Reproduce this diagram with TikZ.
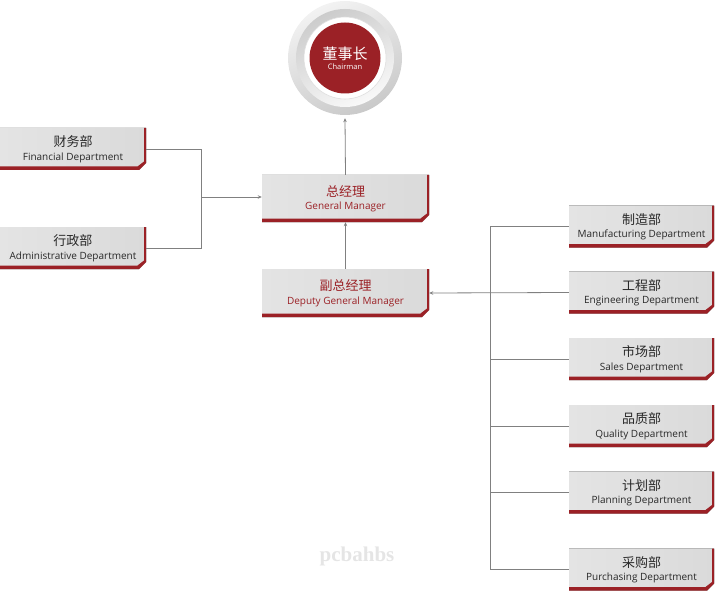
\documentclass[tikz,border=0pt]{standalone}
\usepackage{fontspec}
\setmainfont{Open Sans}
\newfontfamily\cjk{Noto Sans CJK SC}
\newfontfamily\wmfont{Liberation Serif}
\usetikzlibrary{arrows.meta,calc}
\definecolor{dred}{RGB}{155,33,38}
\definecolor{lnk}{RGB}{128,128,128}
\definecolor{boxL}{RGB}{228,228,228}
\definecolor{boxM}{RGB}{247,247,247}
\definecolor{boxR}{RGB}{218,218,218}
\definecolor{txt}{RGB}{40,40,40}
\newcommand\mylabel[2]{{\cjk\fontsize{13}{15}\selectfont #1}\\[1.5pt]{\fontsize{10}{11}\selectfont #2}}
\tikzset{
  panel/.style={rectangle, inner sep=0pt, align=center, text=txt,
    path picture={
      \path (path picture bounding box.north west) coordinate (pNW)
            (path picture bounding box.south east) coordinate (pSE);
      \fill[left color=boxL, middle color=boxM, right color=boxR]
        (pNW) -- (pNW -| pSE) -- ([yshift=7pt]pSE) -- ([xshift=-7pt]pSE) -- (pSE -| pNW) -- cycle;
      \fill[dred] (pNW -| pSE) -- ([yshift=7pt]pSE) -- ([xshift=-7pt]pSE) -- (pSE -| pNW)
        -- ([yshift=3.5pt]pSE -| pNW) -- ([xshift=-8.5pt,yshift=3.5pt]pSE)
        -- ([xshift=-2pt,yshift=8.5pt]pSE) -- ([xshift=-2pt]pNW -| pSE) -- cycle;
    }},
  dept/.style={panel, minimum width=145pt, minimum height=42pt},
  mgr/.style={panel, minimum width=167pt, minimum height=47pt, text=dred},
  conn/.style={draw=lnk, line width=0.8pt},
  tip/.style={-{Stealth[length=4pt,width=3.5pt]}}
}
\begin{document}
\begin{tikzpicture}[x=1pt,y=-1pt]
\useasboundingbox (0,0) rectangle (715,591);

% chairman emblem
\node[circle, minimum size=114pt, inner sep=0pt, top color=gray!10, bottom color=gray!42, shading angle=25] (ring) at (345,58) {};
\node[circle, minimum size=98pt, inner sep=0pt, top color=gray!40, bottom color=gray!5, shading angle=25] (ringin) at (345,58) {};
\node[circle, minimum size=82pt, inner sep=0pt, fill=white, draw=gray!25, line width=0.6pt] (gap) at (345,58) {};
\node[circle, minimum size=71pt, inner sep=0pt, fill=dred, text=white, align=center] (chair) at (345,58)
  {{\cjk\fontsize{15}{16}\selectfont 董事长}\\[-2pt]{\fontsize{7.5}{8}\selectfont Chairman}};

% managers
\node[mgr] (gm) at (345.5,198.5) {\mylabel{总经理}{General Manager}};
\node[mgr, minimum height=48pt] (dgm) at (345.5,293) {\mylabel{副总经理}{Deputy General Manager}};

% left departments
\node[dept, minimum width=146pt] (fin) at (73,149) {\mylabel{财务部}{Financial Department}};
\node[dept, minimum width=146pt] (adm) at (73,248) {\mylabel{行政部}{Administrative Department}};

% right departments
\node[dept] (man) at (641.5,226.5) {\mylabel{制造部}{Manufacturing Department}};
\node[dept] (eng) at (641.5,292.5) {\mylabel{工程部}{Engineering Department}};
\node[dept] (sal) at (641.5,359) {\mylabel{市场部}{Sales Department}};
\node[dept] (qua) at (641.5,426) {\mylabel{品质部}{Quality Department}};
\node[dept] (pla) at (641.5,492.5) {\mylabel{计划部}{Planning Department}};
\node[dept] (pur) at (641.5,569.5) {\mylabel{采购部}{Purchasing Department}};

% connectors
\draw[conn, tip] (gm.north) -- ([yshift=-3pt]ring.south);
\draw[conn, tip] (dgm.north) -- (gm.south);

\coordinate (lj) at (201,197);
\draw[conn] (fin.east) -| (lj);
\draw[conn] (adm.east) -| (lj);
\draw[conn, tip] (lj) -- (gm.west |- lj);

\coordinate (rt) at (490,226.5);
\coordinate (rb) at (490,569.5);
\draw[conn] (rt) -- (rb);
\draw[conn] (man.west) -- (rt);
\draw[conn] (sal.west) -- (sal.west -| rt);
\draw[conn] (qua.west) -- (qua.west -| rt);
\draw[conn] (pla.west) -- (pla.west -| rt);
\draw[conn] (pur.west) -- (rb);
\draw[conn, tip] (eng.west) -- (dgm.east);

% watermark
\node[text=gray!20, font=\wmfont\bfseries\fontsize{21}{21}\selectfont] (wm) at (357,556) {pcbahbs};
\end{tikzpicture}
\end{document}
